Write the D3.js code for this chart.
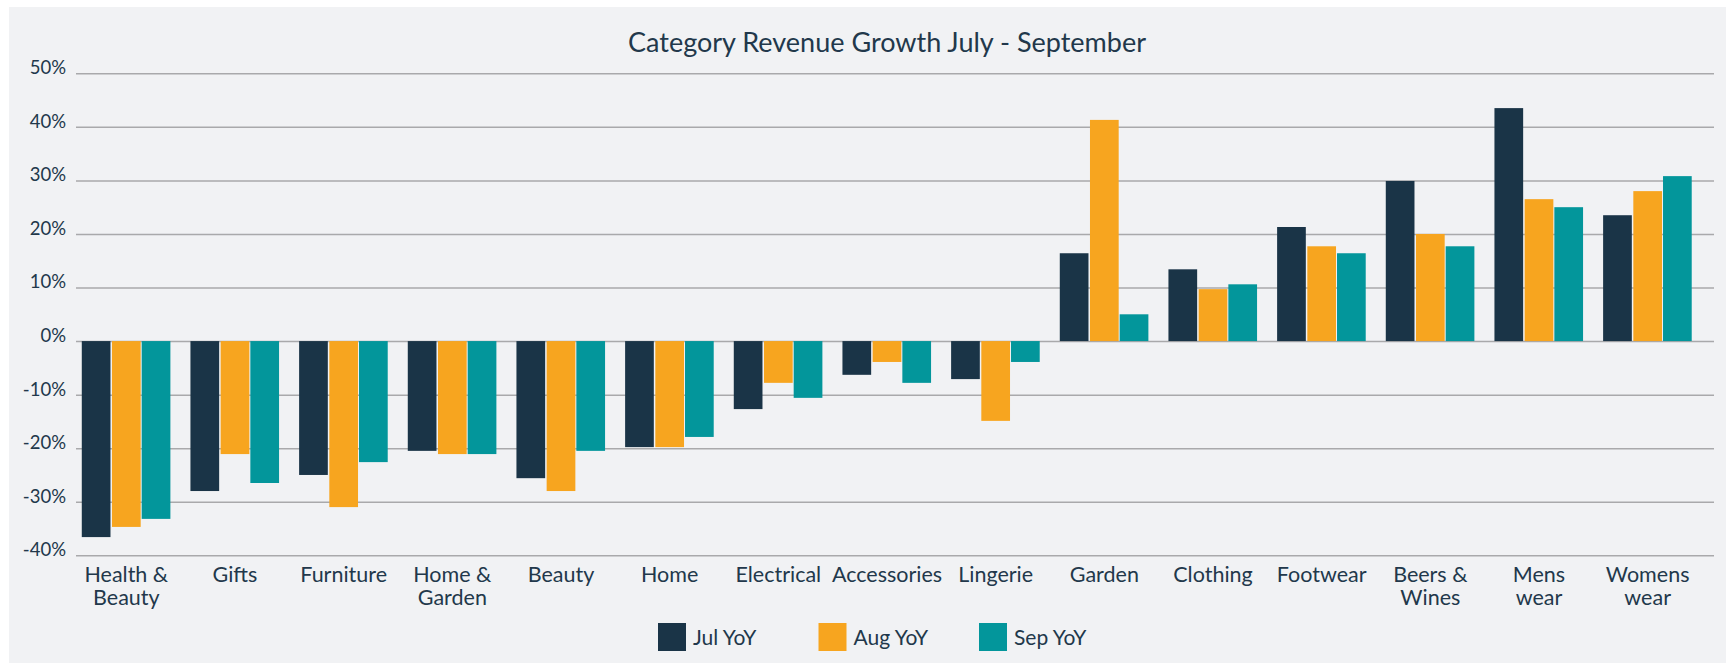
<!DOCTYPE html>
<html>
<head>
<meta charset="utf-8">
<script src="https://cdnjs.cloudflare.com/ajax/libs/d3/7.8.5/d3.min.js"></script>
<style>
  body { margin: 0; background: #ffffff; }
  text { font-family: Lato, "Open Sans", sans-serif; fill: #22384b; }
</style>
</head>
<body>
<div id="my_dataviz"></div>
<script>

// data (percent growth year on year)
var categories = ["Health & Beauty", "Gifts", "Furniture", "Home & Garden", "Beauty", "Home",
                  "Electrical", "Accessories", "Lingerie", "Garden", "Clothing", "Footwear",
                  "Beers & Wines", "Mens wear", "Womens wear"];
var series = ["Jul YoY", "Aug YoY", "Sep YoY"];
var julValues = [-36.6, -28.0, -25.0, -20.5, -25.6, -19.8, -12.7, -6.3, -7.1, 16.4, 13.4, 21.3, 29.9, 43.5, 23.5];
var augValues = [-34.7, -21.1, -31.0, -21.1, -28.0, -19.8, -7.8, -3.9, -14.9, 41.3, 9.7, 17.7, 20.0, 26.5, 28.0];
var sepValues = [-33.2, -26.5, -22.6, -21.1, -20.5, -17.9, -10.6, -7.8, -3.9, 5.0, 10.6, 16.4, 17.7, 25.0, 30.8];
var yTicks = [-40, -30, -20, -10, 0, 10, 20, 30, 40, 50];
var title = "Category Revenue Growth July - September";

var colors = ["#1a3447", "#f7a51f", "#03969b"];

var W = 1728, H = 663;
var plot = {left: 76, right: 1714, top: 73.3, bottom: 555.3};

var svg = d3.select("#my_dataviz")
  .append("svg")
    .attr("width", W)
    .attr("height", H);

// grey panel behind everything
svg.append("rect")
    .attr("x", 9)
    .attr("y", 7)
    .attr("width", W - 11)
    .attr("height", H - 7)
    .attr("fill", "#f1f2f4");

svg.append("text")
    .attr("x", 887)
    .attr("y", 52)
    .attr("text-anchor", "middle")
    .style("font-size", "27px")
    .text(title);

var y = d3.scaleLinear()
    .domain([-40, 50])
    .range([plot.bottom, plot.top]);

var x = d3.scaleBand()
    .domain(categories)
    .range([72, 1702])
    .paddingInner(0.18)
    .paddingOuter(0.09);

var xSub = d3.scaleBand()
    .domain(series)
    .range([0, x.bandwidth()]);

// y axis with gridlines
var yAxis = d3.axisLeft(y)
    .tickValues(yTicks)
    .tickSize(-(plot.right - plot.left))
    .tickPadding(10)
    .tickFormat(function (d) { return d + "%"; });

var gy = svg.append("g")
    .attr("transform", "translate(" + plot.left + ",0)")
    .call(yAxis);

gy.select(".domain").remove();
gy.selectAll(".tick line")
    .attr("stroke", "#a9a9ab")
    .attr("stroke-width", 1.5);
gy.selectAll(".tick text")
    .attr("dy", "0.02em")
    .attr("fill", "#2e4356")
    .style("font-size", "18.5px");

// one row per category, one value per series
var rows = categories.map(function (c, i) {
    return {
        category: c,
        values: [julValues[i], augValues[i], sepValues[i]]
    };
});

var groups = svg.selectAll(".group")
    .data(rows)
    .enter()
    .append("g")
    .attr("class", "group")
    .attr("transform", function (d) { return "translate(" + x(d.category) + ",0)"; });

groups.selectAll("rect")
    .data(function (d) {
        return d.values.map(function (v, j) { return {key: series[j], value: v, idx: j}; });
    })
    .enter()
    .append("rect")
    .attr("x", function (d) { return xSub(d.key) + (d.idx > 0 ? 0.5 : 0); })
    .attr("width", function (d) { return xSub.bandwidth() - 1; })
    .attr("y", function (d) { return y(Math.max(0, d.value)); })
    .attr("height", function (d) { return Math.abs(y(d.value) - y(0)); })
    .attr("fill", function (d) { return colors[d.idx]; });

// category labels, split on spaces but keep "&" with the word before it
var labels = svg.selectAll(".cat")
    .data(categories)
    .enter()
    .append("text")
    .attr("class", "cat")
    .attr("text-anchor", "middle")
    .attr("y", 581.5)
    .style("font-size", "21.5px");

labels.selectAll("tspan")
    .data(function (d) { return d.split(/ (?!&)/).map(function (t) { return {cat: d, line: t}; }); })
    .enter()
    .append("tspan")
    .attr("x", function (d) { return x(d.cat) + x.bandwidth() / 2; })
    .attr("dy", function (d, i) { return i === 0 ? 0 : 23.4; })
    .text(function (d) { return d.line; });

// legend
var legend = svg.selectAll(".legend")
    .data(series)
    .enter()
    .append("g")
    .attr("class", "legend")
    .attr("transform", function (d, i) { return "translate(" + (658 + i * 160.5) + ",623)"; });

legend.append("rect")
    .attr("width", 28)
    .attr("height", 28)
    .attr("fill", function (d, i) { return colors[i]; });

legend.append("text")
    .attr("x", 35)
    .attr("y", 22)
    .style("font-size", "21px")
    .text(function (d) { return d; });

</script>
</body>
</html>
